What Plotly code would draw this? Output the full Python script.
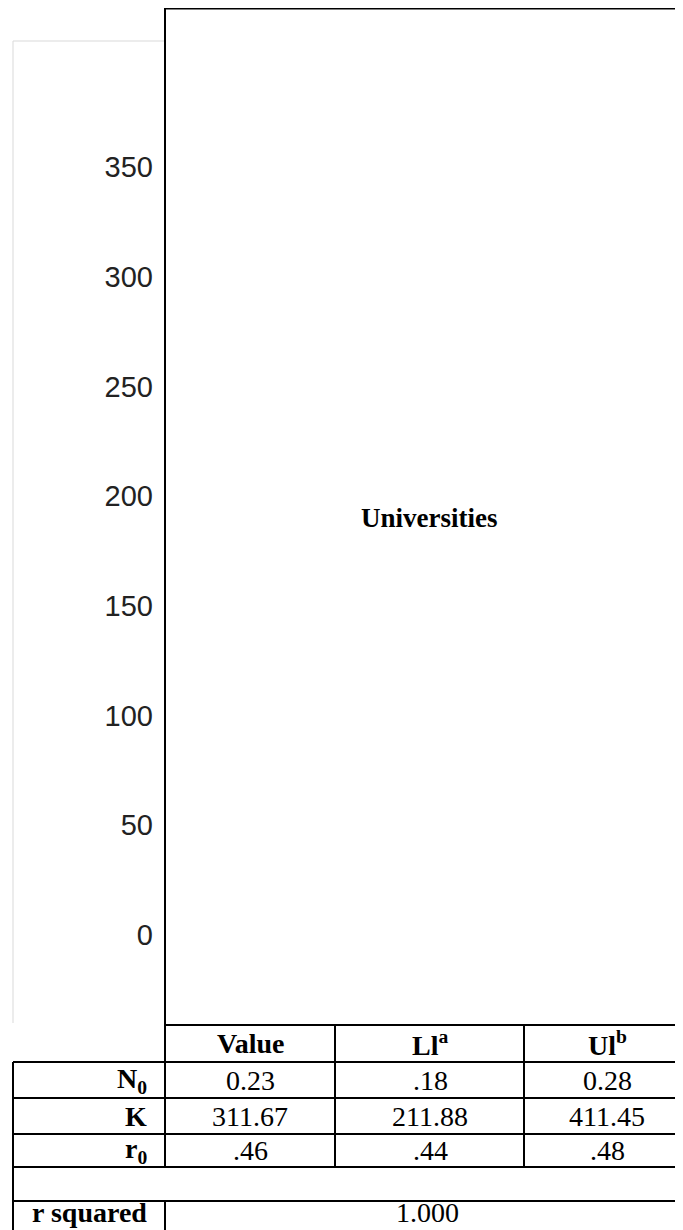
import plotly.graph_objects as go

W, H = 683, 1230

# ---- data ----
y_ticks = [0, 50, 100, 150, 200, 250, 300, 350]
chart_title = "Universities"
col_headers = ["Value", "Ll<sup>a</sup>", "Ul<sup>b</sup>"]
row_labels = ["N<sub>0</sub>", "K", "r<sub>0</sub>"]
values = ["0.23", "311.67", ".46"]
lower = [".18", "211.88", ".44"]
upper = ["0.28", "411.45", ".48"]
r_squared_label = "r squared"
r_squared = "1.000"


def px(x):
    return x / W


def py(y):
    return 1 - y / H


fig = go.Figure()

# main chart axes (only tick labels visible)
fig.add_trace(go.Scatter(x=[], y=[], xaxis="x", yaxis="y", showlegend=False))

# title text of the underlying chart (mostly hidden by the overlay box)
fig.add_trace(go.Scatter(
    x=[150], y=[83], mode="text", text=[chart_title], textposition="middle right",
    textfont=dict(family="Arial, Liberation Sans", size=30, color="#222222"),
    xaxis="x2", yaxis="y2", showlegend=False, cliponaxis=False, hoverinfo="skip"))

BOX_L = 157
shapes = []
# faint grey border of the chart image
shapes.append(dict(type="line", xref="paper", yref="paper", x0=px(5), x1=px(BOX_L + 5), y0=py(33), y1=py(33),
                   line=dict(color="#d9d9d9", width=1), layer="below"))
shapes.append(dict(type="line", xref="paper", yref="paper", x0=px(5), x1=px(5), y0=py(33), y1=py(1015),
                   line=dict(color="#d9d9d9", width=1), layer="below"))
# black framed white box
shapes.append(dict(type="rect", xref="paper", yref="paper", x0=px(BOX_L), x1=px(700), y0=py(0.6), y1=py(1017),
                   fillcolor="white", line=dict(color="black", width=2), layer="above"))

# table lines
hl = [(BOX_L, 1017), (5, 1054), (5, 1090), (5, 1126), (5, 1159), (5, 1193)]
for x0, y in hl:
    shapes.append(dict(type="line", xref="paper", yref="paper", x0=px(x0), x1=px(700), y0=py(y), y1=py(y),
                       line=dict(color="black", width=2), layer="above"))
vl = [(5, 1054, 1240), (BOX_L, 1017, 1159), (BOX_L, 1193, 1240), (327, 1017, 1159), (516, 1017, 1159)]
for x, y0, y1 in vl:
    shapes.append(dict(type="line", xref="paper", yref="paper", x0=px(x), x1=px(x), y0=py(y0), y1=py(y1),
                       line=dict(color="black", width=2), layer="above"))

annotations = []
serif = "Liberation Serif, Times New Roman, serif"


def ann(x, y, text, xanchor="center", size=28):
    return dict(x=px(x), y=py(y), xref="paper", yref="paper", text=text, showarrow=False,
                xanchor=xanchor, yanchor="middle", font=dict(family=serif, size=size, color="black"))


annotations.append(ann(421, 510, "<b>Universities</b>", size=27))

col_centers = [242, 422, 599]
header_y = 1035.5
for c, t in zip(col_centers, col_headers):
    annotations.append(ann(c, header_y, "<b>" + t + "</b>"))
row_ys = [1072, 1108, 1142.5]
for i, ry in enumerate(row_ys):
    annotations.append(ann(141, ry, "<b>" + row_labels[i] + "</b>", xanchor="right"))
    for c, col in zip(col_centers, [values, lower, upper]):
        annotations.append(ann(c, ry, col[i]))
annotations.append(ann(141, 1204, "<b>" + r_squared_label + "</b>", xanchor="right"))
annotations.append(ann(419, 1204, r_squared))

# y range: 0 at pixel 927, 350 at pixel 159
Y0_PX, Y350_PX = 927, 159
ppu = (Y0_PX - Y350_PX) / 350
y_top_px, y_bot_px = 33, 1015
fig.update_layout(
    width=W, height=H, margin=dict(l=0, r=0, t=0, b=0),
    paper_bgcolor="white", plot_bgcolor="rgba(0,0,0,0)",
    xaxis=dict(domain=[px(BOX_L), 1], range=[0, 1], visible=False),
    yaxis=dict(domain=[py(y_bot_px), py(y_top_px)],
               range=[(Y0_PX - y_bot_px) / ppu, (Y0_PX - y_top_px) / ppu],
               tickvals=y_ticks, ticktext=[str(v) for v in y_ticks],
               showgrid=False, zeroline=False, showline=False, ticks="",
               ticklabelstandoff=11,
               tickfont=dict(family="Arial, Liberation Sans", size=29, color="#222222")),
    xaxis2=dict(domain=[0, 1], range=[0, W], visible=False, overlaying="x"),
    yaxis2=dict(domain=[0, 1], range=[H, 0], visible=False, overlaying="y"),
    shapes=shapes, annotations=annotations, showlegend=False,
)

fig.write_html("out.html")
